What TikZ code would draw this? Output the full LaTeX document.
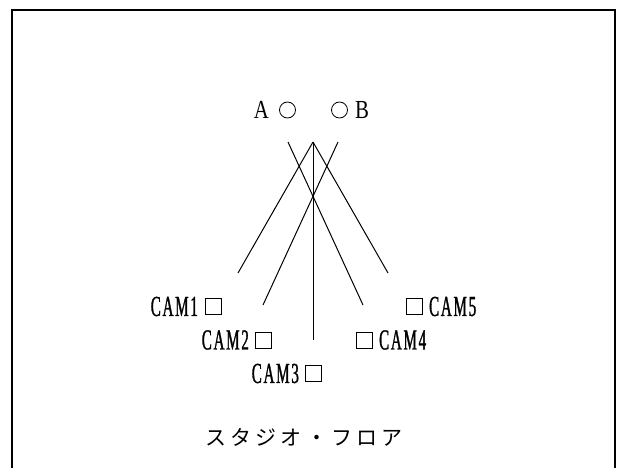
\documentclass[tikz,border=0pt]{standalone}
\usepackage{fontspec}
\setmainfont{Liberation Serif}
\newfontfamily\camfont[FakeStretch=0.52,FakeBold=1,LetterSpace=6]{Liberation Serif}
\newfontfamily\abfont[FakeStretch=0.8]{Liberation Serif}
\newfontfamily\jpfont[LetterSpace=20]{Noto Sans CJK JP}
\begin{document}
\begin{tikzpicture}[x=1pt,y=-1pt,
 cambox/.style={draw,rectangle,minimum size=16pt,inner sep=0pt,line width=0.8pt},
 camtext/.style={font=\camfont\fontsize{29}{29}\selectfont,inner sep=0pt},
 abtext/.style={font=\abfont\fontsize{26}{26}\selectfont,inner sep=0pt},
 person/.style={draw,circle,minimum size=16pt,inner sep=0pt,line width=0.8pt},
 view/.style={line width=1pt}]
\useasboundingbox (0,0) rectangle (621,468);
\draw [line width=1.3pt] (12,468) -- (12,10) -- (615,10) -- (615,468);
% A and B
\node [person] (a) at (287.5,110) {};
\node [person] (b) at (339.5,110) {};
\node [abtext,anchor=east] (alabel) at ([xshift=-10pt]a.west) {A};
\node [abtext,anchor=west] (blabel) at ([xshift=7pt]b.east) {B};
% ends of the lines
\coordinate (apex) at (313,142);
\coordinate (ltop) at (288,142);
\coordinate (rtop) at (338,142);
\coordinate (v1) at (238,273);
\coordinate (v5) at (388,273);
\coordinate (v2) at (263,305);
\coordinate (v4) at (363,305);
\coordinate (v3) at (313,340);
\draw [view] (apex) -- (v1);
\draw [view] (apex) -- (v5);
\draw [view] (apex) -- (v3);
\draw [view] (ltop) -- (v4);
\draw [view] (rtop) -- (v2);
% cameras
\node [cambox] (cam1) at (213.5,306.5) {};
\node [cambox] (cam2) at (263.5,340) {};
\node [cambox] (cam3) at (313.5,373.5) {};
\node [cambox] (cam4) at (364.5,340) {};
\node [cambox] (cam5) at (414.5,306.5) {};
\node [camtext,anchor=east] (cam1label) at ([xshift=-7pt]cam1.west) {CAM1};
\node [camtext,anchor=east] (cam2label) at ([xshift=-6pt]cam2.west) {CAM2};
\node [camtext,anchor=east] (cam3label) at ([xshift=-6pt]cam3.west) {CAM3};
\node [camtext,anchor=west] (cam4label) at ([xshift=6pt]cam4.east) {CAM4};
\node [camtext,anchor=west] (cam5label) at ([xshift=6pt]cam5.east) {CAM5};
% floor
\node [font=\jpfont\fontsize{21}{21}\selectfont] (floor) at (304,437) {スタジオ・フロア};
\end{tikzpicture}
\end{document}
